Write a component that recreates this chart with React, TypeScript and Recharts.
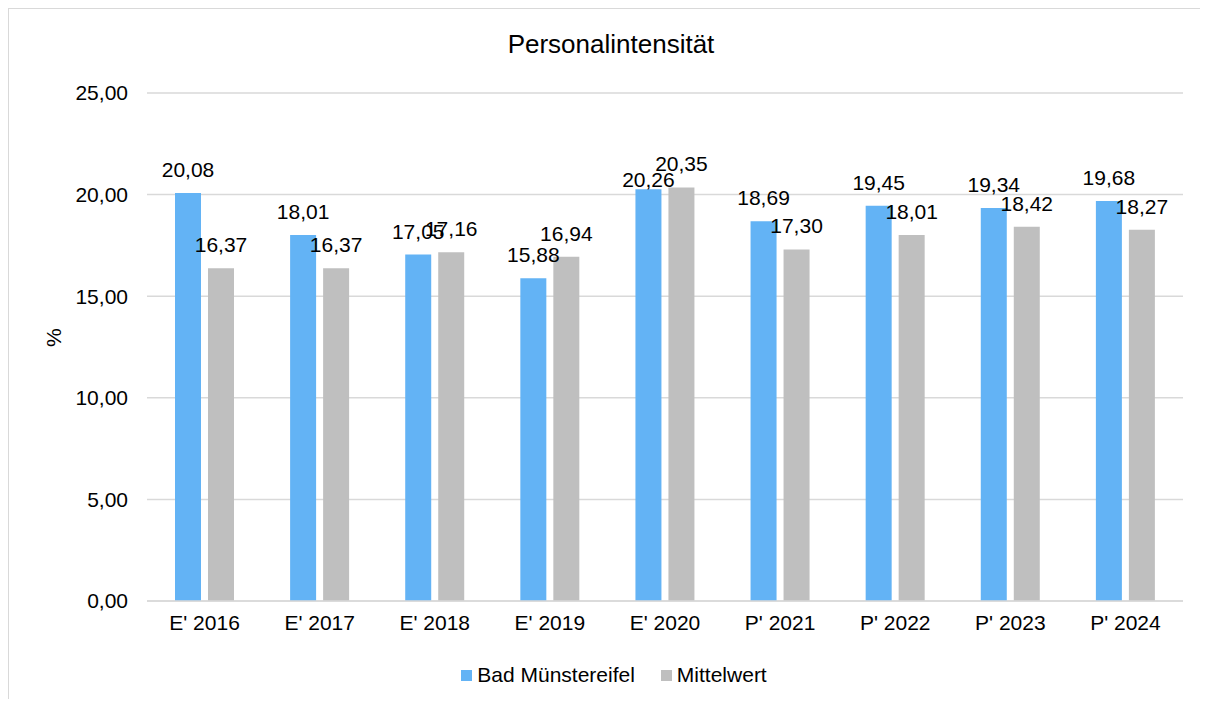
import { BarChart, Bar, XAxis, YAxis, CartesianGrid, Legend, LabelList } from 'recharts';

const categories = ["E' 2016", "E' 2017", "E' 2018", "E' 2019", "E' 2020", "P' 2021", "P' 2022", "P' 2023", "P' 2024"];
const badMuenstereifel = [20.08, 18.01, 17.05, 15.88, 20.26, 18.69, 19.45, 19.34, 19.68];
const mittelwert = [16.37, 16.37, 17.16, 16.94, 20.35, 17.30, 18.01, 18.42, 18.27];
const yTicks = [0, 5, 10, 15, 20, 25];

const data = categories.map((name, i) => ({
  name,
  bad: badMuenstereifel[i],
  mittel: mittelwert[i],
}));

const FONT = '"Liberation Sans", Arial, sans-serif';
const fmt = (v: number) => v.toFixed(2).replace('.', ',');

// Excel pushed the blue label of E' 2020 down to dodge its neighbour
const makeLabel = (squeezed: number[]) => (props: any) => {
  const { x, y, width, value, index } = props;
  const gap = squeezed.includes(index) ? 2 : 16;
  return (
    <text x={x + width / 2} y={y - gap} textAnchor="middle" fill="#000" fontSize={21} fontFamily={FONT}>
      {fmt(Number(value))}
    </text>
  );
};

function LegendContent() {
  const items = [
    { label: 'Bad Münstereifel', color: '#63B3F5' },
    { label: 'Mittelwert', color: '#BFBFBF' },
  ];
  return (
    <div style={{ display: 'flex', justifyContent: 'center', alignItems: 'center', fontFamily: FONT, fontSize: 21, color: '#000', height: 24, paddingLeft: 36 }}>
      {items.map((it) => (
        <div key={it.label} style={{ display: 'flex', alignItems: 'center', margin: '0 13px' }}>
          <span style={{ width: 11, height: 11, background: it.color, display: 'inline-block', marginRight: 5 }} />
          <span>{it.label}</span>
        </div>
      ))}
    </div>
  );
}

export default function App() {
  return (
    <div style={{ position: 'relative', width: 1199, height: 690, borderTop: '1px solid #d9d9d9', borderLeft: '1px solid #d9d9d9', fontFamily: FONT, overflow: 'hidden' }}>
      <div style={{ position: 'absolute', left: 0, width: 1199, boxSizing: 'border-box', paddingLeft: 5, top: 20, textAlign: 'center', fontSize: 26, color: '#000' }}>
        Personalintensität
      </div>
      <BarChart
        width={1199}
        height={690}
        data={data}
        margin={{ top: 84, right: 25, bottom: 34, left: 0 }}
        barSize={26}
        barGap={7}
      >
        <CartesianGrid vertical={false} stroke="#d9d9d9" strokeWidth={1.5} />
        <XAxis
          dataKey="name"
          height={40}
          axisLine={{ stroke: '#d9d9d9', strokeWidth: 1.5 }}
          tickLine={false}
          tickMargin={8}
          tick={{ fill: '#000', fontSize: 21, fontFamily: FONT }}
        />
        <YAxis
          width={138}
          domain={[0, 25]}
          ticks={yTicks}
          tickFormatter={fmt}
          axisLine={false}
          tickLine={false}
          tickMargin={13}
          tick={{ fill: '#000', fontSize: 21, fontFamily: FONT }}
          label={{ value: '%', angle: -90, position: 'insideLeft', dx: 40, style: { fill: '#000', fontSize: 21, fontFamily: FONT } }}
        />
        <Legend verticalAlign="bottom" content={<LegendContent />} wrapperStyle={{ bottom: 12 }} />
        <Bar dataKey="bad" name="Bad Münstereifel" fill="#63B3F5" isAnimationActive={false}>
          <LabelList dataKey="bad" content={makeLabel([4])} />
        </Bar>
        <Bar dataKey="mittel" name="Mittelwert" fill="#BFBFBF" isAnimationActive={false}>
          <LabelList dataKey="mittel" content={makeLabel([])} />
        </Bar>
      </BarChart>
    </div>
  );
}
